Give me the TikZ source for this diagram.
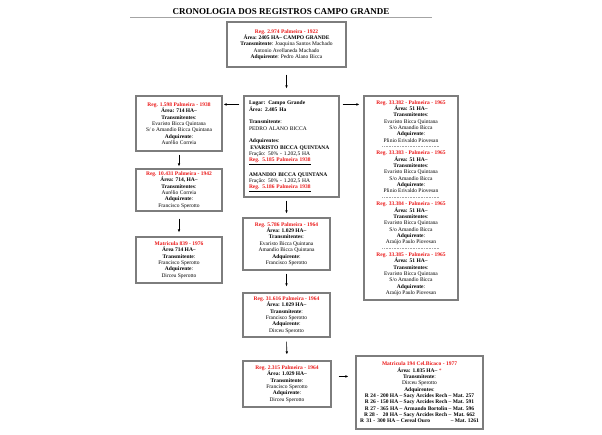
\documentclass[tikz,border=0pt]{standalone}
\usepackage{fontspec}
\setmainfont{Liberation Serif}
\usetikzlibrary{arrows.meta}
\definecolor{regred}{RGB}{235,25,25}
\definecolor{boxgray}{RGB}{125,125,125}
\newcommand{\regtit}[1]{\textcolor{regred}{\textbf{#1}}}
\newcommand{\lbl}[1]{\textbf{#1}}
\newcommand{\sepline}{\hbox to 58pt{\color{boxgray!70}\leaders\hbox to 1.6pt{\hss\rule[1.7pt]{1pt}{0.35pt}\hss}\hfill}}

\begin{document}
\begin{tikzpicture}[x=1pt,y=-1pt,
                        regbox/.style={draw=boxgray,line width=1.1pt,fill=white,align=center,inner sep=2pt,
                            font=\fontsize{5.5}{6.35}\selectfont},
                        arr/.style={-{Latex[length=3pt,width=2.6pt]},line width=0.6pt,shorten <=4pt,shorten >=4pt}]
                        \useasboundingbox (0,0) rectangle (602,435);
                        \node[anchor=base,font=\fontsize{9}{10}\selectfont\bfseries] (titulo) at (281,14.5)
                            {CRONOLOGIA DOS REGISTROS CAMPO GRANDE};
                        \draw[boxgray!70,line width=1.2pt](130,17.5)--(432,17.5);
                        \node[regbox,minimum width=119pt,minimum height=45pt] (topo) at (286.5,44.5)
                            {\regtit{Reg. 2.974 Palmeira - 1922}\\
                             \lbl{Área: 2405 HA– CAMPO GRANDE}\\
                             \lbl{Transmitente}: Joaquina Santos Machado\\
                             Antonio Avellaneda Machado\\
                             \lbl{Adquirente}: Pedro Alano Bicca};
                        \node[regbox,text width=85pt,align=left,minimum width=95pt,minimum height=101pt] (lugar) at (291.5,146.5)
                            {\lbl{Lugar: Campo Grande}\\
                             \lbl{Área: 2.405 Ha}\\[6.35pt]
                             \lbl{Transmitente}:\\
                             PEDRO ALANO BICCA\\[6.35pt]
                             \lbl{Adquirentes}:\\
                             \hspace*{1.4pt}\lbl{EVARISTO BICCA QUINTANA}\\
                             Fração: 50\% - 1.202,5 HA\\
                             \underline{\regtit{Reg. 5.185 Palmeira 1938}}\\[6.35pt]
                             \lbl{AMANDIO BICCA QUINTANA}\\
                             Fração: 50\% - 1.202,5 HA\\
                             \underline{\regtit{Reg. 5.186 Palmeira 1938}}};
                        \node[regbox,minimum width=86pt,minimum height=55pt] (regA) at (179,123.5)
                            {\regtit{Reg. 1.598 Palmeira - 1938}\\
                             \lbl{Área: 714 HA–}\\
                             \lbl{Transmitentes}:\\
                             Evaristo Bicca Quintana\\
                             S/ o Amandio Bicca Quintana\\
                             \lbl{Adquirente}:\\
                             Aurélio Correia};
                        \node[regbox,minimum width=86pt,minimum height=42pt] (regB) at (179,190)
                            {\regtit{Reg. 10.431 Palmeira - 1942}\\
                             \lbl{Área: 714, HA–}\\
                             \lbl{Transmitentes}:\\
                             Aurélio Correia\\
                             \lbl{Adquirente}:\\
                             Francisco Sperotto};
                        \node[regbox,minimum width=86pt,minimum height=46pt] (matC) at (179,260)
                            {\regtit{Matricula 839 - 1976}\\
                             \lbl{Área 714 HA–}\\
                             \lbl{Transmitente}:\\
                             Francisco Sperotto\\
                             \lbl{Adquirente}:\\
                             Dirceu Sperotto};
                        \node[regbox,minimum width=87pt,minimum height=52pt] (reg5786) at (286.5,244)
                            {\regtit{Reg. 5.786 Palmeira - 1964}\\
                             \lbl{Área: 1.029 HA–}\\
                             \lbl{Transmitentes}:\\
                             Evaristo Bicca Quintana\\
                             Amandio Bicca Quintana\\
                             \lbl{Adquirente}:\\
                             Francisco Sperotto};
                        \node[regbox,minimum width=87pt,minimum height=44pt] (reg31616) at (286.5,315)
                            {\regtit{Reg. 31.616 Palmeira - 1964}\\
                             \lbl{Área: 1.029 HA–}\\
                             \lbl{Transmitente}:\\
                             Francisco Sperotto\\
                             \lbl{Adquirente}:\\
                             Dirceu Sperotto};
                        \node[regbox,minimum width=88pt,minimum height=46pt] (reg2315) at (287,384)
                            {\regtit{Reg. 2.315 Palmeira - 1964}\\
                             \lbl{Área: 1.029 HA–}\\
                             \lbl{Transmitente}:\\
                             Francisco Sperotto\\
                             \lbl{Adquirente}:\\
                             Dirceu Sperotto};
                        \node[regbox,minimum width=94pt,minimum height=204pt] (reg3338x) at (411,198)
                            {\regtit{Reg. 33.382 - Palmeira - 1965}\\
                             \lbl{Área: 51 HA–}\\
                             \lbl{Transmitentes}:\\
                             Evaristo Bicca Quintana\\
                             S/o Amandio Bicca\\
                             \lbl{Adquirente}:\\
                             Plinio Erivaldo Piovesan\\
                             \sepline\\
                             \regtit{Reg. 33.383 - Palmeira - 1965}\\
                             \lbl{Área: 51 HA–}\\
                             \lbl{Transmitentes}:\\
                             Evaristo Bicca Quintana\\
                             S/o Amandio Bicca\\
                             \lbl{Adquirente}:\\
                             Plinio Erivaldo Piovesan\\
                             \sepline\\
                             \regtit{Reg. 33.384 - Palmeira - 1965}\\
                             \lbl{Área: 51 HA–}\\
                             \lbl{Transmitentes}:\\
                             Evaristo Bicca Quintana\\
                             S/o Amandio Bicca\\
                             \lbl{Adquirente}:\\
                             Araújo Paulo Piovesan\\
                             \sepline\\
                             \regtit{Reg. 33.385 - Palmeira - 1965}\\
                             \lbl{Área: 51 HA–}\\
                             \lbl{Transmitentes}:\\
                             Evaristo Bicca Quintana\\
                             S/o Amandio Bicca\\
                             \lbl{Adquirente}:\\
                             Araújo Paulo Piovesan};
                        \node[regbox,minimum width=127pt,minimum height=73pt] (mat194) at (419.5,392.5)
                            {\regtit{Matricula 194 Cel.Bicaco - 1977}\\
                             \lbl{Área: 1.035 HA–} \textcolor{regred}{*}\\
                             \lbl{Transmitente}:\\
                             Dirceu Sperotto\\
                             \lbl{Adquirentes}:\\
                             \lbl{R 24 - 200 HA – Sacy Arcides Rech – Mat. 257}\\
                             \lbl{R 26 - 150 HA – Sacy Arcides Rech – Mat. 591}\\
                             \lbl{R 27 - 365 HA – Armando Bortolin – Mat. 596}\\
                             \lbl{R 28 - \hspace{2pt} 20 HA – Sacy Arcides Rech – \hspace{1pt}Mat. 662}\\
                             \lbl{R \hspace{1pt}31 - \hspace{1pt}300 HA – Cereal Ouro \hspace{18pt} – Mat. 1261}};
                        \coordinate (saiA) at ([yshift=-9pt]lugar.north west);
                        \coordinate (saiD) at ([yshift=-9pt]lugar.north east);
                        \coordinate (sai4) at ([yshift=-16pt]reg2315.north east);
                        \draw[arr,shorten <=7pt,shorten >=7pt](topo.south)--(topo.south |- lugar.north);
                        \draw[arr,shorten >=1pt](saiA)--(saiA -| regA.east);
                        \draw[arr,shorten <=3pt](saiD)--(saiD -| reg3338x.west);
                        \draw[arr,shorten <=3pt,shorten >=2pt](regA.south)--(regB.north);
                        \draw[arr,shorten <=7pt](regB.south)--(matC.north);
                        \draw[arr,shorten <=3pt](lugar.south -| reg5786.north)--(reg5786.north);
                        \draw[arr,shorten <=3pt,shorten >=6pt](reg5786.south)--(reg31616.north);
                        \draw[arr,shorten >=6pt](reg31616.south)--(reg2315.north);
                        \draw[arr,shorten <=7pt,shorten >=7pt](sai4)--(sai4 -| mat194.west);
                    \end{tikzpicture}
\end{document}
